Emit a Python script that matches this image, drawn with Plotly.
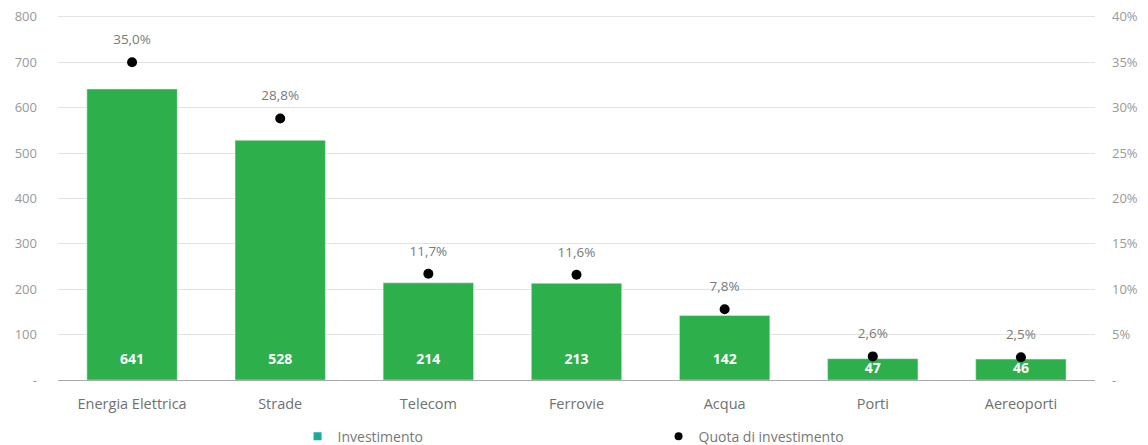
import plotly.graph_objects as go

categories = ["Energia Elettrica", "Strade", "Telecom", "Ferrovie", "Acqua", "Porti", "Aereoporti"]
investimento = [641, 528, 214, 213, 142, 47, 46]
quota = [35.0, 28.8, 11.7, 11.6, 7.8, 2.6, 2.5]

left_ticks = [0, 100, 200, 300, 400, 500, 600, 700, 800]
left_labels = ["-", "100", "200", "300", "400", "500", "600", "700", "800"]
right_ticks = [0, 5, 10, 15, 20, 25, 30, 35, 40]
right_labels = ["-", "5%", "10%", "15%", "20%", "25%", "30%", "35%", "40%"]

GREEN = "#2DB04B"
GRAY = "#7a7a7a"
FONT = "Open Sans"

# bar value labels near bar base (half of bar for small bars)
label_y = [min(v / 2, 42) for v in investimento]

fig = go.Figure()
fig.add_trace(go.Bar(
    x=categories, y=investimento, marker_color=GREEN, width=0.61,
    showlegend=False, yaxis="y"))
fig.add_trace(go.Scatter(
    x=categories, y=label_y, mode="text", text=[str(v) for v in investimento],
    textposition="middle center",
    textfont=dict(color="white", size=14, family=FONT, weight="bold"),
    showlegend=False, hoverinfo="skip"))
fig.add_trace(go.Scatter(
    x=categories, y=quota, yaxis="y2", mode="markers",
    marker=dict(color="black", size=10),
    showlegend=False, cliponaxis=False, hoverinfo="skip"))
fig.add_trace(go.Scatter(
    x=categories, y=quota, yaxis="y2", mode="markers+text",
    marker=dict(color="rgba(0,0,0,0)", size=22),
    text=[f"{v:.1f}".replace(".", ",") + "%" for v in quota],
    textposition="top center", textfont=dict(color=GRAY, size=13.5, family=FONT),
    showlegend=False, cliponaxis=False))
# legend entries
fig.add_trace(go.Scatter(x=[None], y=[None], mode="markers", name="Investimento",
                         marker=dict(symbol="square", color="#1AA99A", size=8)))
fig.add_trace(go.Scatter(x=[None], y=[None], mode="markers", name="Quota di investimento",
                         marker=dict(symbol="circle", color="black", size=8)))

fig.update_layout(
    width=1148, height=445,
    margin=dict(l=50, r=61, t=7, b=73, autoexpand=False),
    paper_bgcolor="white", plot_bgcolor="white",
    font=dict(family=FONT, color=GRAY, size=12),
    bargap=0.39,
    xaxis=dict(showgrid=False, showline=True, linecolor="#aaaaaa", linewidth=1,
               automargin=False,
               ticks="", ticklabelstandoff=11, tickfont=dict(size=14.5, color="#707070")),
    yaxis=dict(range=[0, 804], tickvals=left_ticks, ticktext=left_labels,
               showgrid=True, gridcolor="#e3e3e3", zeroline=False, automargin=False,
               ticklabeloverflow="allow",
               ticklabelstandoff=20, tickfont=dict(size=13, color="#999999")),
    yaxis2=dict(range=[0, 40.2], tickvals=right_ticks, ticktext=right_labels,
                overlaying="y", side="right", showgrid=False, zeroline=False,
                automargin=False, ticklabeloverflow="allow",
                ticklabelstandoff=16, tickfont=dict(size=13, color="#999999")),
    legend=dict(orientation="h", x=0.231, y=-0.155, xanchor="left", yanchor="middle",
                entrywidth=316, font=dict(size=14, color="#777777"),
                itemwidth=30),
)

fig.write_html("out.html")
